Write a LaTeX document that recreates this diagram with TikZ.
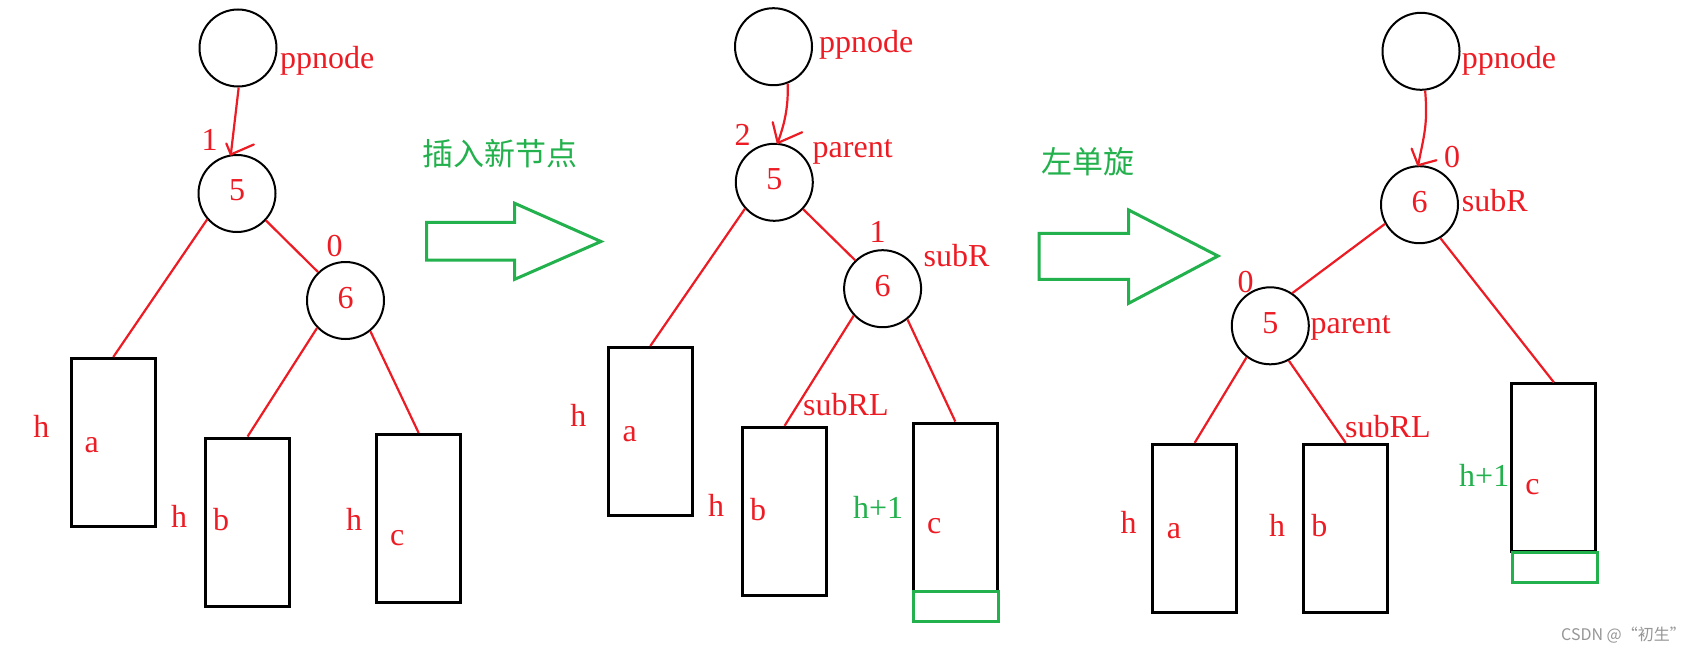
\documentclass[tikz,border=0pt]{standalone}
\usepackage{fontspec}
\setmainfont{Liberation Serif}
\newfontfamily\cjk{Noto Sans CJK SC}
\definecolor{pred}{RGB}{237,28,36}
\definecolor{pgreen}{RGB}{34,177,76}
\definecolor{wmgray}{RGB}{150,150,150}
\begin{document}
\begin{tikzpicture}[x=1pt,y=-1pt,
  circ/.style={circle,draw=black,line width=2pt,minimum size=77pt,inner sep=0pt,text=pred,font=\fontsize{32}{38}\selectfont,text depth=6pt},
  tbox/.style={rectangle,draw=black,line width=3pt,minimum width=84pt,minimum height=168pt,inner sep=0pt},
  gbox/.style={rectangle,draw=pgreen,line width=3pt,minimum width=85pt,minimum height=30pt,inner sep=0pt},
  lab/.style={text=pred,font=\fontsize{32}{38}\selectfont,inner sep=0pt,anchor=base},
  labw/.style={lab,anchor=base west},
  glab/.style={text=pgreen,font=\fontsize{32}{38}\selectfont,inner sep=0pt,anchor=base west},
  cn/.style={text=pgreen,font=\cjk\fontsize{31}{38}\selectfont,inner sep=0pt},
  rline/.style={draw=pred,line width=2.2pt},
  barb/.style={draw=pred,line width=2.2pt,line cap=round,line join=round},
  blockarrow/.style={draw=pgreen,line width=3pt,line join=miter}
]
\fill[white] (0,0) rectangle (1697,653);
\useasboundingbox (0,0) rectangle (1697,653);

% ---------- panel 1 ----------
\node[circ] (pp1) at (238,48) {};
\node[circ] (c5a) at (237,193.5) {5};
\node[circ] (c6a) at (345.5,300.5) {6};
\node[tbox] (ra1) at (113.3,442.5) {};
\node[tbox] (rb1) at (247.6,522) {};
\node[tbox] (rc1) at (418.7,518.5) {};
\draw[rline] (c5a.221) -- (ra1.north);
\draw[rline] (c5a.317) -- (c6a.134);
\draw[rline] (c6a.224) -- (rb1.north);
\draw[rline] (c6a.309) -- (rc1.north);
\draw[rline] (pp1.271) -- (c5a.99);
\draw[barb] (c5a.99) ++(-4.5,-11) -- (c5a.99) -- ++(23,-10);

\node[labw] (tpp1) at (280,68) {ppnode};
\node[lab] (t1a) at (209.7,150.7) {1};
\node[lab] (t0a) at (334.5,256.7) {0};
\node[lab] (taa) at (91.8,452.7) {a};
\node[lab] (tha) at (41.3,437.3) {h};
\node[lab] (tba) at (221.2,530) {b};
\node[lab] (thb) at (179,527.3) {h};
\node[lab] (tca) at (397.2,545) {c};
\node[lab] (thc) at (354,530.7) {h};
\node[cn] (tins) at (500.2,153.3) {插入新节点};
\draw[blockarrow] (426.7,222.3) -- (514.7,222.3) -- (514.7,203.3) -- (601,241.5)
  -- (514.7,279.3) -- (514.7,260) -- (426.7,260) -- cycle;

% ---------- panel 2 ----------
\node[circ] (pp2) at (773.5,46.7) {};
\node[circ] (c5b) at (774.3,182.3) {5};
\node[circ] (c6b) at (882.6,288.7) {6};
\node[tbox] (ra2) at (650.3,431.5) {};
\node[tbox] (rb2) at (784.6,511.3) {};
\node[tbox] (rc2) at (955.3,507) {};
\node[gbox] (g2) at (955.8,606.7) {};
\draw[rline] (c5b.222) -- (ra2.north);
\draw[rline] (c5b.317) -- (c6b.134);
\draw[rline] (c6b.223) -- (rb2.north);
\draw[rline] (c6b.309) -- (rc2.north);
\draw[rline] (pp2.291) .. controls (789,115) and (780,135) .. (c5b.85);
\draw[barb] (c5b.85) ++(-5,-20.7) -- (c5b.85) -- ++(24.4,-10.7);

\node[labw] (tpp2) at (819,52) {ppnode};
\node[lab] (t2b) at (742.6,145) {2};
\node[labw] (tparb) at (812.5,157) {parent};
\node[lab] (t1b) at (877.6,242.7) {1};
\node[labw] (tsrb) at (923.5,266.7) {subR};
\node[lab] (tab) at (629.7,441.7) {a};
\node[lab] (thab) at (578.4,426.7) {h};
\node[labw] (tsrlb) at (803,415) {subRL};
\node[lab] (tbb) at (758.2,520) {b};
\node[lab] (thbb) at (716.1,516.7) {h};
\node[glab] (thcb) at (852.8,518.3) {h+1};
\node[lab] (tcb) at (934.2,533.3) {c};
\node[cn] (tlrot) at (1088,161.7) {左单旋};
\draw[blockarrow] (1039,233.3) -- (1128.7,233.3) -- (1128.7,210) -- (1218,256)
  -- (1128.7,303.3) -- (1128.7,279.3) -- (1039,279.3) -- cycle;

% ---------- panel 3 ----------
\node[circ] (pp3) at (1421,51.3) {};
\node[circ] (c6c) at (1419.5,204.7) {6};
\node[circ] (c5c) at (1270.3,325.8) {5};
\node[tbox] (ra3) at (1194.7,528.3) {};
\node[tbox] (rb3) at (1345.7,528.3) {};
\node[tbox] (rc3) at (1553.9,467.9) {};
\node[gbox] (g3) at (1554.5,567.7) {};
\draw[rline] (c6c.209) -- (c5c.56);
\draw[rline] (c6c.302) -- (rc3.north);
\draw[rline] (c5c.233) -- (ra3.north);
\draw[rline] (c5c.298) -- (rb3.north);
\draw[rline] (pp3.276) .. controls (1428,125) and (1424,135) .. (c6c.92);
\draw[barb] (c6c.92) ++(-6.5,-16.6) -- (c6c.92) -- ++(18.3,-5);

\node[labw] (tpp3) at (1461.6,68.3) {ppnode};
\node[lab] (t0c) at (1452,167.3) {0};
\node[labw] (tsrc) at (1461.6,211) {subR};
\node[lab] (t0c2) at (1245.5,292.7) {0};
\node[labw] (tparc) at (1310.5,333.3) {parent};
\node[labw] (tsrlc) at (1345,437.3) {subRL};
\node[lab] (tac) at (1173.9,538.3) {a};
\node[lab] (thac) at (1128.7,533.3) {h};
\node[lab] (tbc) at (1319.3,536.7) {b};
\node[lab] (thbc) at (1277.2,536) {h};
\node[glab] (thcc) at (1459,486) {h+1};
\node[lab] (tcc) at (1532.5,494) {c};

\node[text=wmgray,font=\cjk\fontsize{16}{18}\selectfont,anchor=east,inner sep=0pt] (wm) at (1686,635) {CSDN @“初生”};
\end{tikzpicture}
\end{document}
